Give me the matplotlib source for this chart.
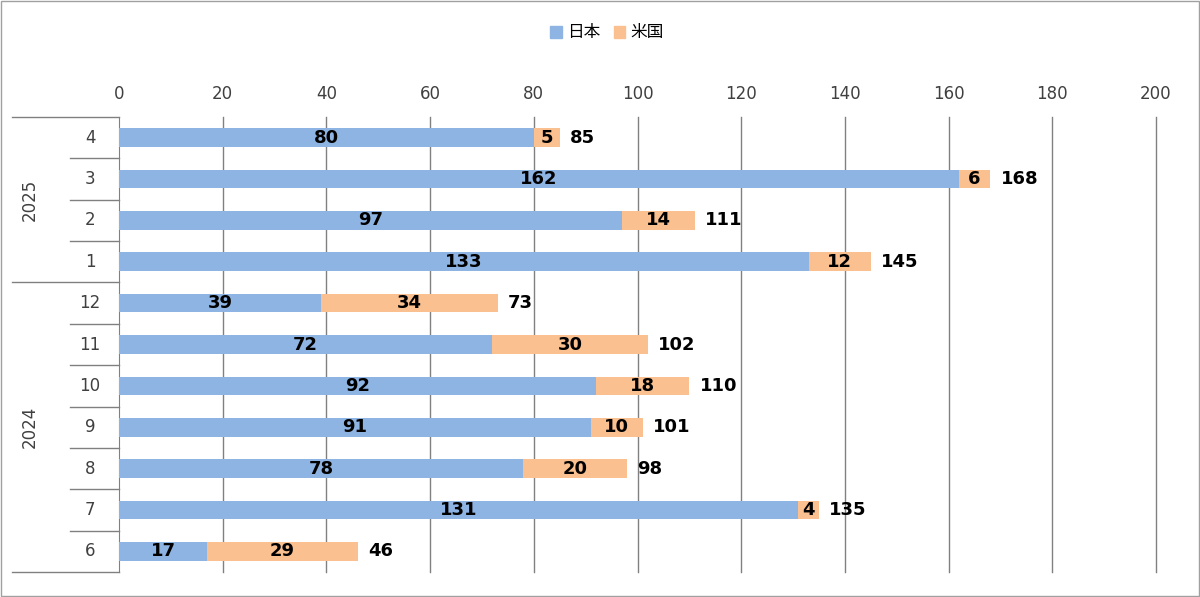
import matplotlib
matplotlib.use("Agg")
import matplotlib.pyplot as plt
from matplotlib.patches import Rectangle
from matplotlib.lines import Line2D

months = ["4", "3", "2", "1", "12", "11", "10", "9", "8", "7", "6"]
years = ["2025", "2025", "2025", "2025", "2024", "2024", "2024", "2024", "2024", "2024", "2024"]
japan = [80, 162, 97, 133, 39, 72, 92, 91, 78, 131, 17]
usa = [5, 6, 14, 12, 34, 30, 18, 10, 20, 4, 29]
series_names = ["日本", "米国"]
c_jp = "#8EB4E3"
c_us = "#FAC090"

W, H = 1200, 597
fig = plt.figure(figsize=(W/100, H/100), dpi=100)
L, R, T, B = 119, 1156, 117, 572
ax = fig.add_axes([L/W, 1-B/H, (R-L)/W, (B-T)/H])
n = len(months)
y = list(range(n))
ax.barh(y, japan, height=0.45, color=c_jp, zorder=3)
ax.barh(y, usa, left=japan, height=0.45, color=c_us, zorder=3)
fp = dict(fontsize=13, fontweight="bold", family="DejaVu Sans", va="center", zorder=4)
for i in y:
    ax.text(japan[i]/2, i, str(japan[i]), ha="center", **fp)
    ax.text(japan[i]+usa[i]/2, i, str(usa[i]), ha="center", **fp)
    ax.text(japan[i]+usa[i]+2, i, str(japan[i]+usa[i]), ha="left", **fp)
ax.set_xlim(0, 200)
ax.set_ylim(n-0.5, -0.5)
ax.set_xticks(range(0, 201, 20))
ax.xaxis.tick_top()
ax.tick_params(axis="x", length=0, labelsize=12, pad=10, colors="#404040")
ax.set_yticks([])
ax.grid(False)
for xv in range(20, 201, 20):
    ax.axvline(xv, color="#808080", lw=1, zorder=0, clip_on=False)
for s in ["top", "right", "bottom"]:
    ax.spines[s].set_visible(False)
ax.spines["left"].set_color("#808080")

def py(i):
    return T + (i+0.5)*(B-T)/n
for i, m in enumerate(months):
    fig.text(90/W, 1-py(i)/H, m, ha="center", va="center", fontsize=12, color="#404040")
row_h = (B-T)/n
for i in range(1, n):
    yy = T + i*row_h
    x0 = 12 if years[i] != years[i-1] else 70
    fig.add_artist(Line2D([x0/W, L/W], [1-yy/H]*2, color="#808080", lw=1))
for yy in [T, B]:
    fig.add_artist(Line2D([12/W, L/W], [1-yy/H]*2, color="#808080", lw=1))
for yr in ["2025", "2024"]:
    idx = [i for i in range(n) if years[i] == yr]
    yc = T + (idx[0] + idx[-1] + 1)/2*row_h
    fig.text(30/W, 1-yc/H, yr, ha="center", va="center", rotation=90, fontsize=12, color="#404040")

fig.legend([Rectangle((0,0),1,1,color=c_jp), Rectangle((0,0),1,1,color=c_us)], series_names,
           loc="center", bbox_to_anchor=(607/W, 1-33/H), ncol=2, frameon=False,
           prop={"family": "Noto Sans CJK JP", "size": 12}, handlelength=0.7, handleheight=0.7,
           columnspacing=0.8, handletextpad=0.3)
fig.add_artist(Rectangle((1/W, 1/H), 1-2/W, 1-2/H, fill=False, ec="#A0A0A0", lw=1, transform=fig.transFigure))
fig.savefig("out.png", dpi=100)
